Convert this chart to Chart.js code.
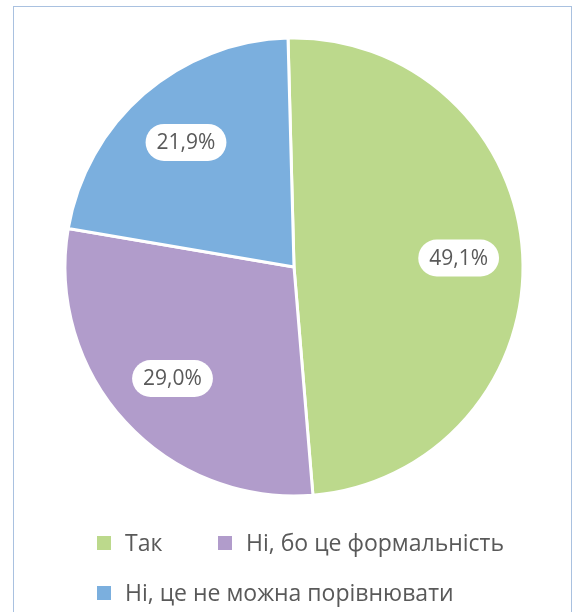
<!DOCTYPE html>
<html>
<head>
<meta charset="utf-8">
<script src="https://cdn.jsdelivr.net/npm/chart.js@4/dist/chart.umd.min.js"></script>
<style>
  html, body { margin: 0; padding: 0; background: #fff; overflow: hidden; }
  #frame { position: absolute; left: 13px; top: 6px; width: 557px; height: 640px; border: 1.5px solid #a9c1e0; }
  #wrap { position: absolute; left: 0; top: 0; width: 579px; height: 534px; }
  #legend { position: absolute; left: 0; top: 0; font-family: "Open Sans", sans-serif; font-size: 23px; color: #595959; }
  .item { position: absolute; white-space: nowrap; line-height: 30px; }
  .box { position: absolute; width: 14px; height: 14px; top: 9px; }
  .txt { position: absolute; left: 28px; top: 0; }
</style>
</head>
<body>
<div id="frame"></div>
<div id="wrap"><canvas id="pie"></canvas></div>
<div id="legend"></div>
<script>
const categories = ['Так', 'Ні, бо це формальність', 'Ні, це не можна порівнювати'];
const values = [49.1, 29.0, 21.9];
const colors = ['#bcd98c', '#b19ccb', '#7bafde'];

const labelPlugin = {
  id: 'pillLabels',
  afterDatasetsDraw(chart) {
    const ctx = chart.ctx;
    const meta = chart.getDatasetMeta(0);
    ctx.save();
    ctx.font = '21px "Open Sans", sans-serif';
    ctx.textAlign = 'center';
    ctx.textBaseline = 'middle';
    meta.data.forEach((arc, i) => {
      const p = arc.getProps(['x', 'y', 'startAngle', 'endAngle', 'outerRadius'], true);
      const mid = (p.startAngle + p.endAngle) / 2;
      const r = p.outerRadius * 0.72;
      const x = p.x + Math.cos(mid) * r;
      const y = p.y + Math.sin(mid) * r;
      const text = values[i].toFixed(1).replace('.', ',') + '%';
      const w = ctx.measureText(text).width + 22;
      const h = 37;
      ctx.fillStyle = '#fff';
      ctx.beginPath();
      ctx.roundRect(x - w / 2, y - h / 2, w, h, h / 2);
      ctx.fill();
      ctx.fillStyle = '#595959';
      ctx.fillText(text, x, y + 1);
    });
    ctx.restore();
  }
};

const chart = new Chart(document.getElementById('pie'), {
  type: 'pie',
  data: {
    labels: categories,
    datasets: [{
      data: values,
      backgroundColor: colors,
      borderColor: '#fff',
      borderWidth: 3
    }]
  },
  options: {
    responsive: true,
    maintainAspectRatio: false,
    animation: false,
    radius: 229,
    rotation: -1.5,
    layout: { padding: { left: 9 } },
    plugins: {
      legend: { display: false },
      tooltip: { enabled: false }
    }
  },
  plugins: [labelPlugin]
});

// legend built from the chart's own data
const legendPos = [[97, 527], [218, 527], [97, 577]];
const legendEl = document.getElementById('legend');
chart.data.labels.forEach((lab, i) => {
  const it = document.createElement('div');
  it.className = 'item';
  it.style.left = legendPos[i][0] + 'px';
  it.style.top = legendPos[i][1] + 'px';
  it.innerHTML = '<span class="box" style="background:' + chart.data.datasets[0].backgroundColor[i] + '"></span><span class="txt">' + lab + '</span>';
  legendEl.appendChild(it);
});
</script>
</body>
</html>
